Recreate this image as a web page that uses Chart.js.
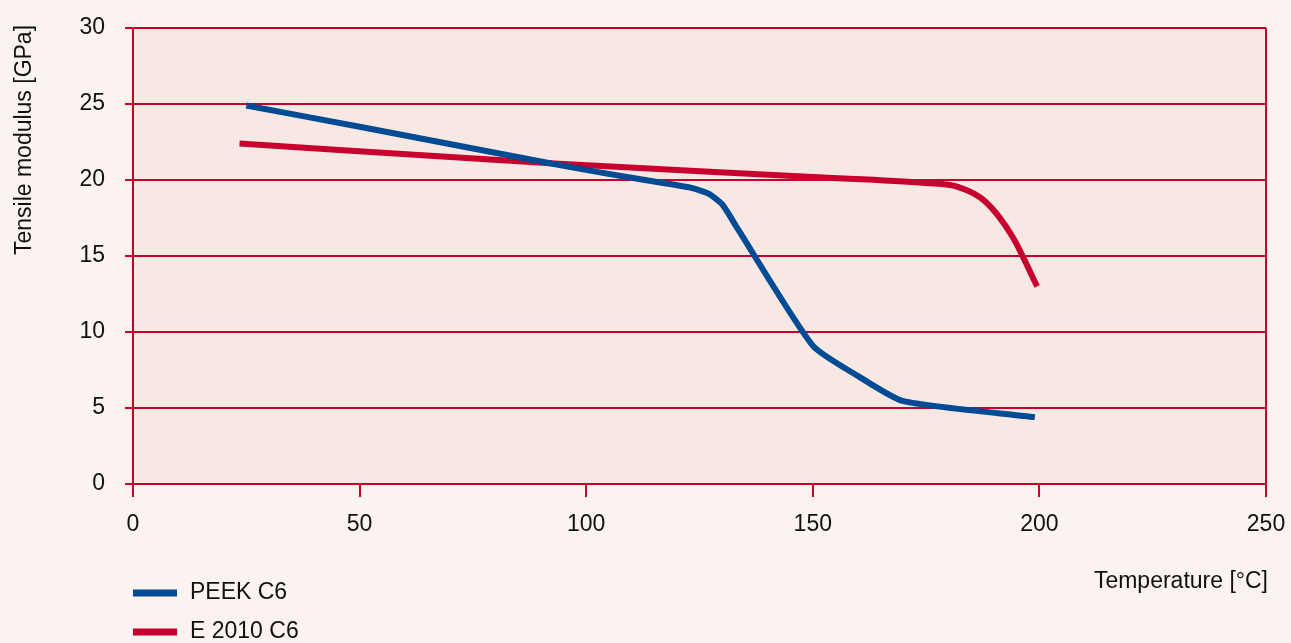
<!DOCTYPE html>
<html>
<head>
<meta charset="utf-8">
<script src="https://cdn.jsdelivr.net/npm/chart.js@4.4.0/dist/chart.umd.min.js"></script>
<style>
  html, body { margin: 0; padding: 0; background: #fbf3f0; }
  .wrap { width: 1291px; height: 643px; position: relative; }
</style>
</head>
<body>
<div class="wrap"><canvas id="modulusChart" width="1291" height="643"></canvas></div>
<script>
const peekTemp = [25, 50, 92, 103, 115, 123, 127, 130, 133, 150, 160, 170, 199];
const peekModulus = [24.9, 23.5, 21.1, 20.5, 19.9, 19.5, 19.1, 18.4, 17.0, 9.1, 7.1, 5.45, 4.4];
const e2010Temp = [23.5, 92, 150, 175, 182, 188, 194, 199.5];
const e2010Modulus = [22.4, 21.1, 20.2, 19.8, 19.55, 18.6, 16.3, 13.0];
const xTicks = [0, 50, 100, 150, 200, 250];
const yTicks = [0, 5, 10, 15, 20, 25, 30];
const seriesNames = ['PEEK C6', 'E 2010 C6'];

const RED = '#c8002d';
const BLUE = '#004b93';
const FONT = "'Liberation Sans Narrow', 'Arial Narrow', 'Liberation Sans', sans-serif";

function toPoints(xs, ys) {
    return xs.map((x, i) => ({ x: x, y: ys[i] }));
}

const decor = {
    id: 'decor',
    beforeDraw(chart) {
        const { ctx, chartArea: a } = chart;
        ctx.save();
        ctx.fillStyle = '#f7e8e4';
        ctx.fillRect(a.left, a.top, a.right - a.left, a.bottom - a.top);
        ctx.restore();
    },
    afterDraw(chart) {
        const ctx = chart.ctx;
        ctx.save();
        ctx.fillStyle = '#111';
        ctx.font = '23px ' + FONT;
        // axis titles
        ctx.textAlign = 'right';
        ctx.textBaseline = 'middle';
        ctx.fillText('Temperature [°C]', 1268, 582);
        ctx.translate(25, 140);
        ctx.rotate(-Math.PI / 2);
        ctx.textAlign = 'center';
        ctx.fillText('Tensile modulus [GPa]', 0, 0);
        ctx.restore();

        // legend
        ctx.save();
        ctx.font = '23px ' + FONT;
        ctx.textBaseline = 'middle';
        ctx.textAlign = 'left';
        [BLUE, RED].forEach((c, i) => {
            const y = 593 + i * 39;
            ctx.fillStyle = c;
            ctx.fillRect(133, y - 3.5, 44, 7);
            ctx.fillStyle = '#111';
            ctx.fillText(seriesNames[i], 190, y);
        });
        ctx.restore();
    }
};

new Chart(document.getElementById('modulusChart').getContext('2d'), {
    type: 'line',
    data: {
        datasets: [{
            label: seriesNames[0],
            data: toPoints(peekTemp, peekModulus),
            borderColor: BLUE,
            borderWidth: 6,
            pointRadius: 0,
            tension: 0.2,
            fill: false
        }, {
            label: seriesNames[1],
            data: toPoints(e2010Temp, e2010Modulus),
            borderColor: RED,
            borderWidth: 6,
            pointRadius: 0,
            cubicInterpolationMode: 'monotone',
            fill: false
        }]
    },
    options: {
        responsive: false,
        animation: false,
        layout: { padding: { left: 0, top: 28, right: 25, bottom: 0 } },
        plugins: { legend: { display: false }, tooltip: { enabled: false } },
        scales: {
            x: {
                type: 'linear',
                min: 0,
                max: 250,
                afterBuildTicks: s => { s.ticks = xTicks.map(v => ({ value: v })); },
                afterFit: s => { s.height = 159; s.paddingLeft = 0; s.paddingRight = 0; },
                grid: {
                    drawOnChartArea: true,
                    color: c => (c.tick && c.tick.value === 250) ? RED : 'rgba(0,0,0,0)',
                    tickColor: RED,
                    lineWidth: 2,
                    tickLength: 13
                },
                border: { display: false },
                ticks: {
                    color: '#111',
                    font: { family: FONT, size: 23 },
                    padding: 14,
                    maxRotation: 0
                }
            },
            y: {
                min: 0,
                max: 30,
                afterBuildTicks: s => { s.ticks = yTicks.map(v => ({ value: v })); },
                afterFit: s => { s.width = 133; s.paddingTop = 0; s.paddingBottom = 0; },
                grid: {
                    color: RED,
                    tickColor: RED,
                    lineWidth: 2,
                    tickLength: 8
                },
                border: { color: RED, width: 2 },
                ticks: {
                    color: '#111',
                    font: { family: FONT, size: 23 },
                    padding: 20
                }
            }
        }
    },
    plugins: [decor]
});
</script>
</body>
</html>
